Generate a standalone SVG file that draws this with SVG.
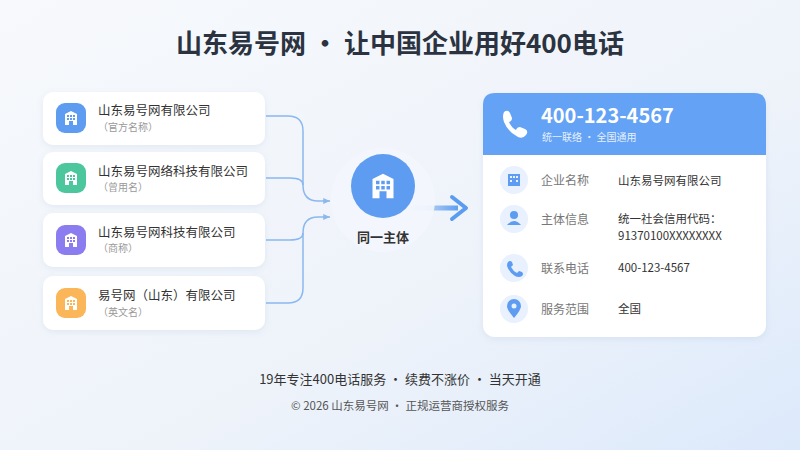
<svg xmlns="http://www.w3.org/2000/svg" width="800" height="450" viewBox="0 0 800 450">
<defs>
<linearGradient id="bg" x1="0" y1="0" x2="1" y2="1"><stop offset="0" stop-color="#f7f9fc"/><stop offset="0.6" stop-color="#eef3fa"/><stop offset="1" stop-color="#dce9fb"/></linearGradient>
<linearGradient id="arr" gradientUnits="userSpaceOnUse" x1="410" y1="0" x2="460" y2="0"><stop offset="0" stop-color="#5b9cf0" stop-opacity="0.1"/><stop offset="1" stop-color="#5b9cf0"/></linearGradient>
<marker id="ah" viewBox="0 0 10 10" refX="9" refY="5" markerWidth="5" markerHeight="5" orient="auto"><path d="M0,1 L9,5 L0,9 Z" fill="#8bb8f0"/></marker>
<filter id="sh" x="-10%" y="-10%" width="120%" height="130%"><feDropShadow dx="0" dy="2" stdDeviation="3" flood-color="#6a86b0" flood-opacity="0.12"/></filter>
<symbol id="bld" viewBox="0 0 16 16"><path fill="#fff" fill-rule="evenodd" d="M2,15 V4 L8,1 L14,4 V15 H10 V11 H6 V15 Z M4,5 h2 v2 h-2z M7,5 h2 v2 h-2z M10,5 h2 v2 h-2z M4,8 h2 v2 h-2z M7,8 h2 v2 h-2z M10,8 h2 v2 h-2z"/></symbol>
</defs>
<style>
text{font-family:"Noto Sans CJK SC","Noto Sans",sans-serif}
.card{fill:#fff;filter:url(#sh)}
.nm{font-size:12.5px;fill:#333}
.sub{font-size:10px;fill:#999}
.lbl{font-size:12px;fill:#777}
.val{font-size:11.5px;fill:#333}
.con{fill:none;stroke:#8bb8f0;stroke-width:1.5}
.rc{fill:#e8f1fd}
</style>
<rect width="800" height="450" fill="url(#bg)"/>
<text x="400" y="53" text-anchor="middle" font-size="26" font-weight="bold" fill="#2b3340">山东易号网 · 让中国企业用好400电话</text>

<g id="connectors">
<path class="con" d="M266,116 H288 Q303,116 303,131 V185 Q303,201 318,201 H330" marker-end="url(#ah)"/>
<path class="con" d="M266,178 H290 Q303,178 303,185"/>
<path class="con" d="M266,240 H290 Q303,240 303,233"/>
<path class="con" d="M266,303 H288 Q303,303 303,288 V233 Q303,217 318,217 H330" marker-end="url(#ah)"/>
<path d="M410,208 H458" stroke="url(#arr)" stroke-width="5" fill="none"/>
<path d="M452,197 L466,208 L452,219" stroke="#5b9cf0" stroke-width="4" fill="none" stroke-linecap="round" stroke-linejoin="round"/>
</g>

<g id="n1"><rect class="card" x="43" y="92" width="222" height="53" rx="10"/><rect x="56" y="103" width="30" height="30" rx="9" fill="#5d9cf0"/><use href="#bld" x="63" y="110" width="16" height="16"/><text class="nm" x="98" y="115">山东易号网有限公司</text><text class="sub" x="98" y="131">（官方名称）</text></g>
<g id="n2"><rect class="card" x="43" y="152" width="222" height="53" rx="10"/><rect x="56" y="163" width="30" height="30" rx="9" fill="#4cc79d"/><use href="#bld" x="63" y="170" width="16" height="16"/><text class="nm" x="98" y="176">山东易号网络科技有限公司</text><text class="sub" x="98" y="191">（曾用名）</text></g>
<g id="n3"><rect class="card" x="43" y="213" width="222" height="54" rx="10"/><rect x="56" y="225" width="30" height="30" rx="9" fill="#8b7cf0"/><use href="#bld" x="63" y="232" width="16" height="16"/><text class="nm" x="98" y="237">山东易号网科技有限公司</text><text class="sub" x="98" y="252">（商称）</text></g>
<g id="n4"><rect class="card" x="43" y="276" width="222" height="54" rx="10"/><rect x="56" y="288" width="30" height="30" rx="9" fill="#fbb65a"/><use href="#bld" x="63" y="295" width="16" height="16"/><text class="nm" x="98" y="300">易号网（山东）有限公司</text><text class="sub" x="98" y="316">（英文名）</text></g>

<g id="center">
<circle cx="383" cy="200" r="52" fill="#f3f7fd" opacity="0.9"/>
<circle cx="383" cy="186" r="32" fill="#5d9cf0"/>
<use href="#bld" x="369" y="172" width="28" height="28"/>
<text x="383" y="242" text-anchor="middle" font-size="13" font-weight="bold" fill="#333">同一主体</text>
</g>

<g id="info">
<rect class="card" x="483" y="93" width="283" height="244" rx="12"/>
<path d="M483,155 V105 Q483,93 495,93 H754 Q766,93 766,105 V155 Z" fill="#63a2f5"/>
<path d="M504,112 q4,-3 6,1 l2,5 q0,3 -3,4 q2,5 7,8 q1,-3 4,-3 l5,2 q4,2 1,6 q-3,4 -8,2 q-10,-5 -14,-15 q-2,-6 0,-10z" fill="#fff"/>
<text x="541" y="123" font-size="20" font-weight="bold" fill="#fff">400-123-4567</text>
<text x="542" y="141" font-size="10" fill="#e6f0ff">统一联络 · 全国通用</text>
<circle class="rc" cx="514" cy="180" r="14"/><rect x="508" y="174" width="12" height="12" fill="#5d9cf0"/><rect x="510" y="176" width="2" height="2" fill="#e8f1fd"/><rect x="513" y="176" width="2" height="2" fill="#e8f1fd"/><rect x="516" y="176" width="2" height="2" fill="#e8f1fd"/><rect x="510" y="180" width="2" height="2" fill="#e8f1fd"/><rect x="516" y="180" width="2" height="2" fill="#e8f1fd"/>
<text class="lbl" x="541" y="185">企业名称</text><text class="val" x="618" y="185">山东易号网有限公司</text>
<circle class="rc" cx="514" cy="219" r="14"/><circle cx="514" cy="215" r="4" fill="#5d9cf0"/><path d="M507,225 q7,-8 14,0z" fill="#5d9cf0"/>
<text class="lbl" x="541" y="224">主体信息</text><text class="val" x="618" y="223">统一社会信用代码：</text><text class="val" x="618" y="240">91370100XXXXXXXX</text>
<circle class="rc" cx="514" cy="268" r="14"/><path d="M508,262 q2,-2 4,0 l1,3 -2,2 q2,4 6,6 l2,-2 3,1 q2,2 0,4 q-3,2 -7,0 q-6,-4 -8,-10 q-0,-3 1,-4z" fill="#5d9cf0"/>
<text class="lbl" x="541" y="273">联系电话</text><text class="val" x="618" y="272">400-123-4567</text>
<circle class="rc" cx="514" cy="309" r="14"/><path d="M514,318 q-7,-8 -7,-12 a7,7 0 0 1 14,0 q0,4 -7,12z" fill="#5d9cf0"/><circle cx="514" cy="306" r="2.5" fill="#e8f1fd"/>
<text class="lbl" x="541" y="314">服务范围</text><text class="val" x="618" y="313">全国</text>
</g>

<text x="400" y="384" text-anchor="middle" font-size="13" fill="#333">19年专注400电话服务 · 续费不涨价 · 当天开通</text>
<text x="400" y="410" text-anchor="middle" font-size="11.5" fill="#555">© 2026 山东易号网 · 正规运营商授权服务</text>
</svg>
